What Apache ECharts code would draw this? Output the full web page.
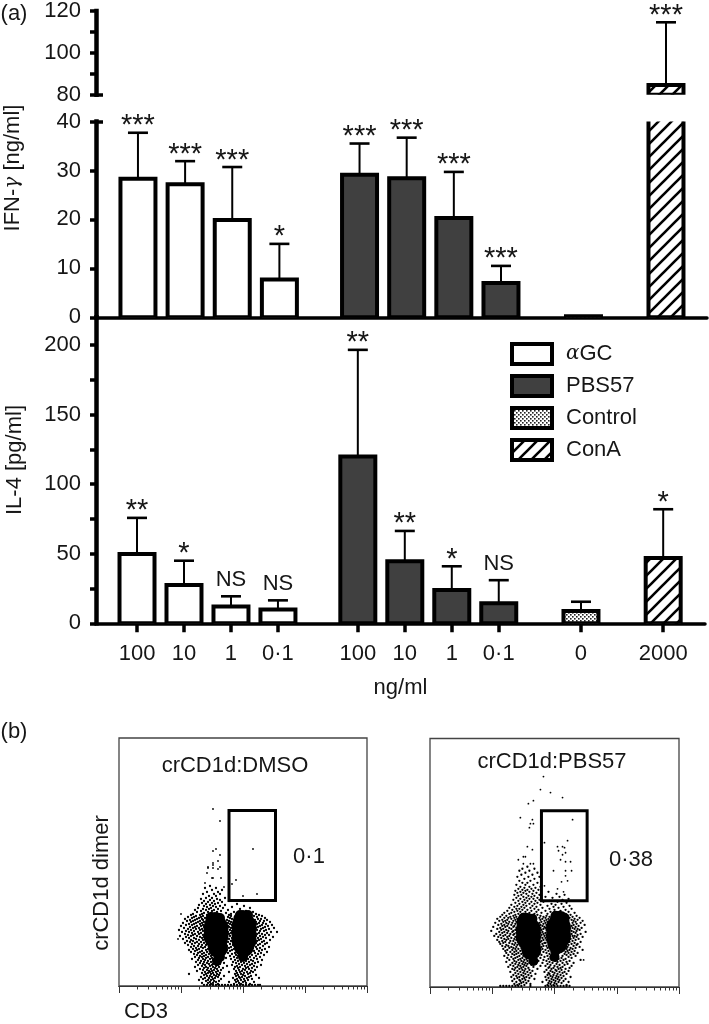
<!DOCTYPE html>
<html><head><meta charset="utf-8">
<style>html,body{margin:0;padding:0;background:#fff}#c{width:709px;height:1024px}</style>
<script src="https://cdn.jsdelivr.net/npm/echarts@6/dist/echarts.min.js"></script>
</head><body><div id="c"></div>
<script>
// ---------- panel (a) data ----------
const doses = ['100','10','1','0·1','100','10','1','0·1','0','2000'];
const agcX = [1,2,3,4];
const pbsX = [5.7,6.7,7.7,8.7];
const ctrlX = [10.45];
const conaX = [12.2];

const ifnAgc = [28.3,27.2,19.9,7.7];
const ifnAgcErr = [37.7,31.9,30.7,15.0];
const ifnAgcSig = ['***','***','***','*'];
const ifnPbs = [29.1,28.4,20.3,7.0];
const ifnPbsErr = [35.5,36.7,29.7,10.5];
const ifnPbsSig = ['***','***','***','***'];
const ifnCtrl = [0.2];
const ifnCona = [84.6];
const ifnConaErr = [114.6];
const ifnConaSig = ['***'];

const il4Agc = [49.9,27.6,12,10];
const il4AgcErr = [75.8,45,19.4,16.5];
const il4AgcSig = ['**','*','NS','NS'];
const il4Pbs = [119.9,44.6,24,14.4];
const il4PbsErr = [196.6,66.4,41,31];
const il4PbsSig = ['**','**','*','NS'];
const il4Ctrl = [8.8];
const il4CtrlErr = [15.5];
const il4Cona = [47];
const il4ConaErr = [82];
const il4ConaSig = ['*'];

// ---------- panel (b) data (channel units) ----------
const flowMajorTicks = [0,62,124,186,248];
const dmsoGate = [110,85.5,156.5,175.5];
const pbsGate = [111,86,156.5,176];

const dmsoOutliers = [[94,177],[101,165],[134,137],[97,137],[94,135],[101,131],[99,125],[94,123],[89,119],[89,118],[94,121],[101,119],[99,117],[94,118],[88,113],[117,106],[93,108],[94,108],[102,108],[86,103],[113,102],[105,99],[138,92],[124,90],[62,72],[59,47]];
const dmsoCoreLarge = [[97,58],[97,50],[125,60],[125,52],[125,46]];
const dmsoCoreMedium = [[98,43],[99,38],[125,39],[96,64],[124,66]];
const dmsoCoreSmall = [[100,33],[125,33],[124,29],[101,29],[92,69],[101,68],[121,71],[129,71],[98,25]];
const dmsoRows = [
[100,[91]],[98,[86,97]],[96,[93,103]],[94,[88,99]],[92,[84,95,101]],[90,[90,97]],[88,[87,93,106]],[87,[82,98]],[86,[91,101]],[85,[85,95,110]],[84,[89,103]],[83,[83,93,99]],[82,[87,96,118]],[81,[80,91,106]],[80,[85,94,101,125]],[79,[88,97,113]],[78,[79,92,104,131]],[77,[84,90,99,121]],[76,[76,87,95,109]],[75,[82,93,102,127]],[74,[78,89,98,115,134]],[73,[85,92,107,122]],[72,[74,83,96,112,129,137]],
[71,[72,81,88,110,118,131,140]],[70,[77,84,112,135,143]],[69,[69,75,82,109,116,138]],[68,[73,80,86,111,133,146]],[67,[66,78,83,113,139,142]],[66,[71,76,84,108,136,148]],[65,[68,74,81,110,141,145]],[64,[72,79,85,112,137,151]],[63,[64,77,83,109,140,144]],[62,[70,75,81,111,138,147]],[61,[67,73,84,113,143,153]],[60,[62,78,82,109,136,141,149]],[59,[71,76,85,110,139,146]],[58,[65,74,80,112,137,144,155]],[57,[69,77,83,108,142,150]],[56,[60,72,81,111,138,147]],[55,[67,75,84,113,141,145]],[54,[63,70,79,109,136,152,158]],[53,[73,82,86,112,140,148]],[52,[66,76,80,110,138,143]],[51,[69,74,84,114,146,150]],[50,[61,72,78,111,137,141]],[49,[67,81,85,108,144,154]],[48,[70,75,83,113,139,147]],[47,[64,77,86,110,136,142]],[46,[72,80,84,116,140,151]],[45,[68,74,87,112,138,145]],[44,[71,78,82,109,115,143]],[43,[66,76,85,118,137,148]],[42,[73,80,88,111,141,146]],[41,[69,83,87,114,135,139]],[40,[75,79,90,108,120,144]],
[39,[72,82,86,112,117,137,150]],[38,[77,84,92,110,122,134,141]],[37,[74,80,89,115,119,138,146]],[36,[70,78,87,94,108,113,133,143]],[35,[76,83,91,111,118,135,140]],[34,[72,81,88,96,106,121,132,148]],[33,[79,85,93,109,116,136,142]],[32,[75,83,90,98,113,120,130,139]],[31,[78,87,94,104,117,133,145]],[30,[81,85,92,100,111,119,128,137]],[29,[76,83,89,96,115,123,131,141]],[28,[80,87,93,99,107,118,126,135]],[27,[73,84,91,97,112,121,129,138]],[26,[79,86,94,102,116,124,132,143]],[25,[82,89,95,100,119,127,134]],[24,[77,85,92,98,114,122,130,139]],[23,[81,88,96,105,117,125,136]],[22,[84,90,94,101,120,128,133]],[21,[79,86,93,99,113,123,131,142]],[20,[83,91,97,108,118,126,135]],[19,[76,87,94,100,116,121,129,138]],[18,[85,89,96,104,119,127,133]],[17,[81,92,98,115,124,130]],[16,[84,88,95,102,120,126,136]],[15,[78,90,93,99,117,123,132]],[14,[86,91,97,110,121,128,134]],[13,[83,89,94,101,118,125,131]],[12,[70,87,92,98,116,122,129]],[11,[85,95,100,119,124,137]],[10,[88,91,97,105,117,126,132]],[9,[82,93,99,120,123,130]],[8,[86,90,96,114,121,128,140]],[7,[84,94,102,118,125,133]],[6,[80,89,92,116,122,129]],[5,[87,95,100,119,126]],[4,[91,97,110,117,124,135]],[3,[83,89,94,120,127]],[2,[92,99,115,122,131]],
[1,[85,88,91,94,97,100,103,106,109,112,115,118,121,124,127,130,133,136,139,141]]
];

const pbsOutliers = [[113,210],[110,197],[120,194],[132,189],[103,186],[98,183],[90,169],[102,167],[100,163],[103,163],[99,159],[142,167],[114,144],[137,146],[127,140],[132,140],[128,136],[134,139],[97,140],[102,137],[93,130],[95,130],[88,127],[135,134],[132,132],[130,127],[135,125],[140,125],[93,123],[100,123],[103,123],[123,116],[135,116],[141,116],[135,111],[137,106],[131,105],[114,101],[127,98],[133,95],[153,27]];
const pbsCoreLarge = [[98,57],[98,50],[128,59],[128,51]];
const pbsCoreMedium = [[100,43],[101,37],[127,43],[96,64],[129,66]];
const pbsCoreSmall = [[102,31],[125,36],[124,30],[93,69],[102,68],[125,71],[134,69],[103,26]];
const pbsRows = [
[120,[97]],[118,[92,104]],[116,[89,99]],[114,[95,107]],[112,[91,102]],[110,[87,98,109]],[108,[94,104]],[106,[89,100]],[104,[92,97,107]],[102,[86,95,103]],[100,[90,99,110]],[99,[94,105]],[98,[88,101]],[97,[92,97,108]],[96,[85,95,103]],[95,[90,99,118]],[94,[87,93,106]],[93,[96,102,126]],[92,[84,91,109,134]],[91,[88,98,104]],[90,[93,101,115,129]],[89,[86,96,107,122]],[88,[90,99,103,138]],[87,[83,94,109,132]],[86,[88,97,105,119]],[85,[92,101,113,127]],[84,[85,95,107,136]],[83,[89,99,104,121,131]],[82,[81,93,110,125]],[81,[87,96,102,117,139]],[80,[84,91,106,123,133]],[79,[79,94,100,112,128]],[78,[86,89,104,119,141]],[77,[82,92,97,108,124,135]],[76,[77,87,101,115,130]],[75,[84,90,95,106,120,138]],[74,[74,81,99,111,126,144]],[73,[79,88,93,104,117,133]],[72,[72,85,107,122,129,140]],
[71,[76,83,90,110,116,137,146]],[70,[70,80,86,113,119,142]],[69,[74,78,84,109,115,139,149]],[68,[67,81,87,112,118,144]],[67,[72,77,85,110,116,141,147]],[66,[69,75,83,114,119,143,152]],[65,[73,79,86,111,117,145]],[64,[65,76,82,109,115,142,150]],[63,[71,78,85,113,118,146]],[62,[68,74,81,110,116,143,154]],[61,[72,77,84,112,119,141,148]],[60,[63,75,83,114,117,145]],[59,[70,79,86,110,115,142,151]],[58,[67,73,81,113,118,144,147]],[57,[71,76,85,111,116,149]],[56,[61,78,83,109,119,141,146]],[55,[69,74,82,112,117,143,155]],[54,[72,77,86,110,115,145]],[53,[66,80,84,113,118,141,150]],[52,[70,75,83,111,116,147]],[51,[64,73,79,114,119,142,144]],[50,[68,77,85,110,117,146,152]],[49,[71,81,87,112,115,143]],[48,[74,78,84,109,118,140,148]],[47,[67,76,86,113,116,145]],[46,[72,80,83,111,119,142]],[45,[69,75,88,110,117,139,150]],[44,[73,79,85,114,115,144]],[43,[70,82,89,112,118,141,147]],[42,[76,84,87,109,120,138,146]],[41,[72,78,90,113,116,143]],[40,[75,81,86,111,119,137,149]],
[39,[79,83,91,108,117,140,145]],[38,[73,85,88,112,120,136,142]],[37,[77,82,92,110,115,139,152]],[36,[75,86,90,107,118,137,144]],[35,[80,84,93,113,121,135,141]],[34,[76,88,94,109,116,138,147]],[33,[82,86,91,105,119,134,143]],[32,[78,84,96,111,122,136,140]],[31,[74,89,93,107,117,132,145]],[30,[81,87,95,101,114,120,138]],[29,[77,85,92,98,110,123,131,141]],[28,[83,90,96,104,118,128,135]],[27,[79,88,94,100,113,121,133,150]],[26,[84,91,97,108,116,125,130,139]],[25,[76,86,93,102,119,127,136]],[24,[82,89,95,99,112,122,132,143]],[23,[85,92,97,105,117,126,137]],[22,[80,88,94,101,120,129,134]],[21,[83,90,96,110,115,124,141]],[20,[78,87,93,103,119,127,132]],[19,[85,91,98,118,123,130,139]],[18,[82,89,95,107,121,128,135]],[17,[84,92,99,116,125,131]],[16,[87,94,102,120,126,138]],[15,[80,90,97,114,122,129,134]],[14,[85,93,100,118,124,132]],[13,[88,95,105,119,127,136]],[12,[83,91,98,117,123,130]],[11,[86,93,101,120,126,133]],[10,[81,89,96,115,122,128,140]],[9,[87,94,99,118,125,131]],[8,[84,92,104,121,127,135]],[7,[89,95,116,123,129]],[6,[82,90,98,119,125,133]],[5,[86,93,112,121,128,138]],[4,[91,96,118,124,131]],[3,[84,89,100,120,126]],[2,[87,94,117,123,136]],
[1,[70,73,76,79,82,85,88,91,100,115,118,121,124,127,130,133,136,139]]
];

// ---------- helpers ----------
const FONT = '"Liberation Sans", Arial, sans-serif';
const INK = '#161616';
const SIZE = 22;
const flat = rows => rows.flatMap(r => r[1].map(x => [x, r[0]]));

function tile(w, h, draw){
  const c = document.createElement('canvas'); c.width = w; c.height = h;
  const g = c.getContext('2d'); g.fillStyle = '#fff'; g.fillRect(0,0,w,h); draw(g);
  return {image: c, repeat: 'repeat'};
}
const hatch = tile(13,13,g=>{
  g.strokeStyle='#000'; g.lineWidth=2.6; g.beginPath();
  g.moveTo(-3,16); g.lineTo(16,-3); g.moveTo(-3,3); g.lineTo(3,-3); g.moveTo(10,16); g.lineTo(16,10); g.stroke();
});
const dots = tile(4,4,g=>{
  g.fillStyle='#222'; g.fillRect(0,0,1.6,1.6); g.fillRect(2,2,1.6,1.6);
});

function bars(name, xi, xs, vals, fill, base){
  return {name, type:'custom', xAxisIndex:xi, yAxisIndex:xi, clip:true, animation:false, z:3, silent:true,
    itemStyle:{color:fill, borderColor:'#000', borderWidth:4},
    data:xs.map((x,i)=>[x,vals[i]]), encode:{x:0,y:1},
    renderItem(p, api){
      const t = api.coord([api.value(0), api.value(1)]);
      const b = api.coord([api.value(0), base]);
      return {type:'rect', shape:{x:t[0]-17.5, y:t[1], width:35, height:b[1]-t[1]},
        style:{fill, stroke:'#000', lineWidth:4, lineJoin:'miter'}};
    }};
}
function errs(xi, xs, vals, tops, sigs){
  const data = xs.map((x,i)=>[x,vals[i],tops[i]]);
  return {type:'custom', xAxisIndex:xi, yAxisIndex:xi, data, animation:false, z:2, silent:true,
    encode:{x:0,y:[1,2]},
    renderItem(p, api){
      const a = api.coord([api.value(0), api.value(1)]);
      const b = api.coord([api.value(0), api.value(2)]);
      const s = sigs ? sigs[p.dataIndex] : '';
      const star = s.indexOf('*')>=0;
      const kids = [
        {type:'line', shape:{x1:a[0],y1:a[1],x2:b[0],y2:b[1]}, style:{stroke:'#000',lineWidth:2}},
        {type:'line', shape:{x1:b[0]-10,y1:b[1],x2:b[0]+10,y2:b[1]}, style:{stroke:'#000',lineWidth:2.6}}
      ];
      if (s) kids.push({type:'text', style:{text:s, x:b[0], y:star? b[1]+8 : b[1]-5, align:'center', verticalAlign:'bottom',
        font:(star? '29px ':SIZE+'px ')+FONT, fill:INK}});
      return {type:'group', children:kids};
    }};
}
function txt(text,x,y,opt){
  return Object.assign({type:'text', x, y, silent:true,
    style:{text, font:SIZE+'px '+FONT, fill:INK, align:'center', verticalAlign:'middle'}},
    opt&&opt.rotation?{rotation:opt.rotation}:{});
}
const axisLine = {show:true, onZero:false, lineStyle:{color:'#000', width:4.5, cap:'square'}};
const tickBase = {show:true, length:6, lineStyle:{color:'#000', width:3.5}};
const labelBase = {fontFamily:FONT, fontSize:SIZE, color:INK, margin:15, padding:[5,0,0,0]};
const minorTicks = [0,1,2,3].flatMap(d=>[2,3,4,5,6,7,8,9].map(m=>(d+Math.log10(m))*62));

function barY(grid,min,max,major,labels){
  return {type:'value', gridIndex:grid, min, max, splitLine:{show:false}, axisLine, position:'left',
    axisTick:Object.assign({},tickBase,{customValues:major}), 
    axisLabel:Object.assign({},labelBase,{customValues:labels, showMinLabel:true, showMaxLabel:true})};
}
function stubY(grid,min,max,v){
  return {type:'value', gridIndex:grid, min, max, position:'left', splitLine:{show:false}, axisLine:{show:false},
    axisLabel:{show:false}, axisTick:{show:true, inside:true, length:7, lineStyle:{color:'#000',width:3.5}, customValues:[v]}};
}
function flowX(grid,ticks,len){
  return {type:'value', gridIndex:grid, min:0, max:248, position:'bottom', splitLine:{show:false}, axisLabel:{show:false},
    axisLine:{show:true, onZero:false, lineStyle:{color:'#333',width:1.2}},
    axisTick:{show:true, length:len, lineStyle:{color:'#333',width:1}, customValues:ticks}};
}
function flowY(grid){
  return {type:'value', gridIndex:grid, min:0, max:248, show:false};
}
function scatter(xi,yi,data,size){
  return {type:'scatter', xAxisIndex:xi, yAxisIndex:yi, data, symbolSize:size, animation:false, silent:true,
    large:false, itemStyle:{color:'#000', opacity:1}};
}
function gate(xi,yi,g){
  return {type:'custom', xAxisIndex:xi, yAxisIndex:yi, data:[g], animation:false, silent:true, z:5,
    renderItem(p,api){
      const a=api.coord([api.value(0),api.value(1)]), b=api.coord([api.value(2),api.value(3)]);
      return {type:'rect', shape:{x:a[0],y:b[1],width:b[0]-a[0],height:a[1]-b[1]}, style:{fill:'none',stroke:'#000',lineWidth:3}};
    }};
}

const xMidMin=0.11, xMidMax=13.07, xBotMin=0.127, xBotMax=13.09;
const allX = agcX.concat(pbsX,ctrlX,conaX);
const option = {
  animation:false,
  backgroundColor:'#fff',
  textStyle:{fontFamily:FONT},
  grid:[
    {left:96, width:611, top:10, height:84.7},
    {left:96, width:611, top:121.5, height:195.8},
    {left:96, width:609, top:317.3, height:306},
    {left:119, width:248, top:738, height:248, show:true, borderColor:'#444', borderWidth:1.3, backgroundColor:'transparent'},
    {left:430, width:249, top:738.5, height:248.5, show:true, borderColor:'#444', borderWidth:1.3, backgroundColor:'transparent'}
  ],
  xAxis:[
    {type:'value', gridIndex:0, min:xMidMin, max:xMidMax, show:false},
    {type:'value', gridIndex:1, min:xMidMin, max:xMidMax, splitLine:{show:false}, axisLabel:{show:false}, axisTick:{show:false},
      axisLine:{show:true, onZero:false, lineStyle:{color:'#000',width:3.5}}},
    {type:'value', gridIndex:2, min:xBotMin, max:xBotMax, splitLine:{show:false},
      axisLine:{show:true, onZero:false, lineStyle:{color:'#000',width:3.5}},
      axisTick:{show:true, length:9, lineStyle:{color:'#000',width:3.5}, customValues:allX},
      axisLabel:{fontFamily:FONT, fontSize:SIZE, color:INK, margin:20, customValues:allX,
        formatter:v=>doses[allX.indexOf(v)]},
      name:'ng/ml', nameLocation:'middle', nameGap:54, nameTextStyle:{fontFamily:FONT,fontSize:SIZE,color:INK}},
    flowX(3,flowMajorTicks,7), flowX(4,flowMajorTicks,7),
    flowX(3,minorTicks,3.5), flowX(4,minorTicks,3.5)
  ],
  yAxis:[
    barY(0,80,120,[80,90,100,110,120],[80,100,120]),
    barY(1,0,40,[0,10,20,30,40],[0,10,20,30,40]),
    barY(2,0,220,[0,25,50,75,100,125,150,175,200],[0,50,100,150,200]),
    flowY(3), flowY(4),
    stubY(0,80,120,80), stubY(1,0,40,40)
  ],
  legend:{
    orient:'vertical', left:510, top:342, padding:0, itemWidth:40, itemHeight:20, itemGap:8, icon:'rect', selectedMode:false,
    data:['αGC','PBS57','Control','ConA'],
    itemStyle:{borderWidth:4, borderColor:'#000'},
    textStyle:{fontFamily:FONT, fontSize:SIZE, lineHeight:20, color:INK, padding:[0,0,0,9],
      rich:{g:{fontFamily:'"DejaVu Serif", serif', fontStyle:'italic', fontSize:20, lineHeight:20, color:INK},
            t:{fontFamily:FONT, fontSize:SIZE, lineHeight:20, color:INK}}},
    formatter:n=> n==='αGC' ? '{g|α}{t|GC}' : n
  },
  graphic:[
    txt('(a)',14,14),
    txt('(b)',14,732),
    {type:'text', x:13, y:168, rotation:Math.PI/2, silent:true, style:{
      rich:{a:{font:SIZE+'px '+FONT,fill:INK}, g:{font:'italic 20px "DejaVu Serif", serif',fill:INK}},
      text:'{a|IFN-}{g|γ}{a| [ng/ml]}', align:'center', verticalAlign:'middle'}},
    txt('IL-4 [pg/ml]',15,460,{rotation:Math.PI/2}),
    txt('crCD1d:DMSO',235,766),
    txt('crCD1d:PBS57',552,762),
    txt('crCD1d dimer',102,883,{rotation:Math.PI/2}),
    txt('CD3',146,1012),
    txt('0·1',309,857),
    txt('0·38',631,860)
  ],
  series:[
    bars('ConA',0,conaX,ifnCona,hatch,80),
    errs(0,conaX,ifnCona,ifnConaErr,ifnConaSig),

    bars('αGC',1,agcX,ifnAgc,'#fff',0),
    bars('PBS57',1,pbsX,ifnPbs,'#404040',0),
    bars('Control',1,ctrlX,ifnCtrl,dots,0),
    bars('ConA',1,conaX,ifnCona,hatch,0),
    errs(1,agcX,ifnAgc,ifnAgcErr,ifnAgcSig),
    errs(1,pbsX,ifnPbs,ifnPbsErr,ifnPbsSig),

    bars('αGC',2,agcX,il4Agc,'#fff',0),
    bars('PBS57',2,pbsX,il4Pbs,'#404040',0),
    bars('Control',2,ctrlX,il4Ctrl,dots,0),
    bars('ConA',2,conaX,il4Cona,hatch,0),
    errs(2,agcX,il4Agc,il4AgcErr,il4AgcSig),
    errs(2,pbsX,il4Pbs,il4PbsErr,il4PbsSig),
    errs(2,ctrlX,il4Ctrl,il4CtrlErr,null),
    errs(2,conaX,il4Cona,il4ConaErr,il4ConaSig),

    scatter(3,3,dmsoCoreLarge,25), scatter(3,3,dmsoCoreMedium,20), scatter(3,3,dmsoCoreSmall,10),
    scatter(3,3,flat(dmsoRows),2.3), scatter(3,3,dmsoOutliers,1.8),
    gate(3,3,dmsoGate),
    scatter(4,4,pbsCoreLarge,25), scatter(4,4,pbsCoreMedium,20), scatter(4,4,pbsCoreSmall,10),
    scatter(4,4,flat(pbsRows),2.3), scatter(4,4,pbsOutliers,1.8),
    gate(4,4,pbsGate)
  ]
};
const chart = echarts.init(document.getElementById('c'), null, {renderer:'canvas', width:709, height:1024});
chart.setOption(option);
</script>
</body></html>
